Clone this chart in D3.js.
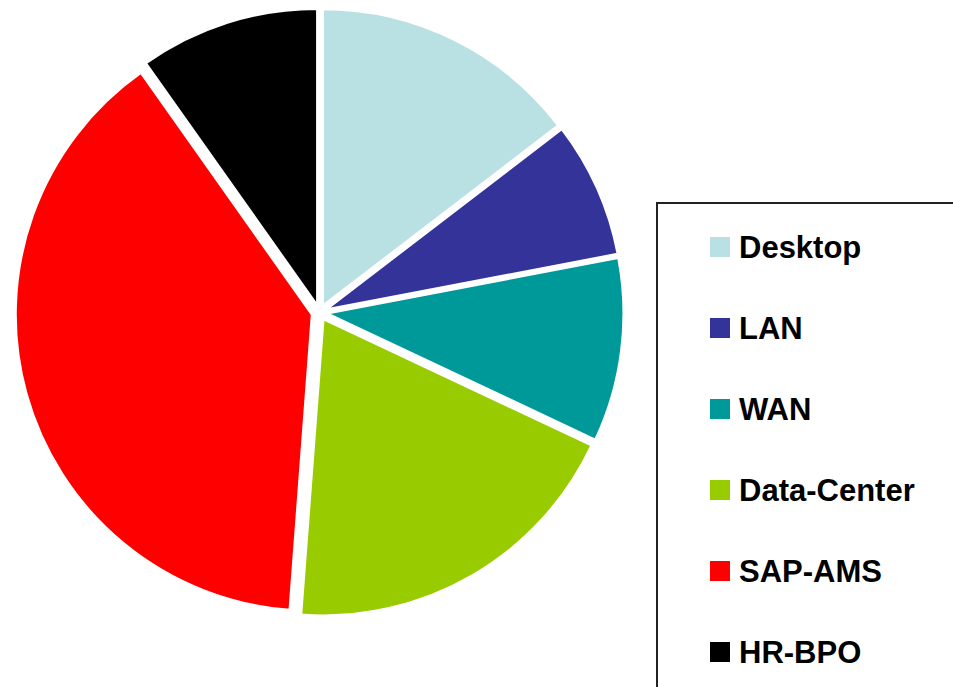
<!DOCTYPE html>
<html>
<head>
<meta charset="utf-8">
<script src="https://cdn.jsdelivr.net/npm/d3@7"></script>
<style>
  body { margin: 0; background: #fff; }
  text { font-family: "Liberation Sans", Arial, sans-serif; font-weight: bold; }
</style>
</head>
<body>
<div id="chart"></div>
<script>
// slice data (percent)
const categories = ["Desktop", "LAN", "WAN", "Data-Center", "SAP-AMS", "HR-BPO"];
const shares = [14.6, 7.4, 10.0, 19.2, 39.0, 9.8];
const colors = ["#b9e0e3", "#333399", "#009999", "#99cc00", "#ff0000", "#000000"];

const width = 953, height = 687;
const cx = 319.5, cy = 312.5, radius = 296, explode = 8;

const svg = d3.select("#chart")
  .append("svg")
  .attr("width", width)
  .attr("height", height);

const pie = d3.pie().sort(null).value(d => d.value);
const arc = d3.arc().innerRadius(0).outerRadius(radius);

const data = categories.map((c, i) => ({ name: c, value: shares[i], color: colors[i] }));

const g = svg.append("g").attr("transform", `translate(${cx},${cy})`);

// every slice pulled out a little from the middle
g.selectAll(".slice")
  .data(pie(data))
  .enter()
  .append("path")
  .attr("class", "slice")
  .attr("d", arc)
  .attr("fill", d => d.data.color)
  .attr("stroke", "#fff")
  .attr("stroke-width", 2)
  .attr("transform", d => {
    const a = (d.startAngle + d.endAngle) / 2;
    return `translate(${Math.sin(a) * explode},${-Math.cos(a) * explode})`;
  });

// legend box runs off the right and bottom edge
const legend = svg.append("g").attr("transform", "translate(657,203)");

legend.append("rect")
  .attr("x", 0)
  .attr("y", 0)
  .attr("width", 320)
  .attr("height", 520)
  .attr("fill", "none")
  .attr("stroke", "#222")
  .attr("stroke-width", 2);

const rowY = d3.scalePoint()
  .domain(categories)
  .range([44, 449]);

const items = legend.selectAll(".item")
  .data(data)
  .enter()
  .append("g")
  .attr("class", "item")
  .attr("transform", d => `translate(53,${rowY(d.name)})`);

items.append("rect")
  .attr("x", 0)
  .attr("y", -10)
  .attr("width", 20)
  .attr("height", 20)
  .attr("fill", d => d.color);

items.append("text")
  .attr("x", 29)
  .attr("y", 0)
  .attr("dy", "0.36em")
  .attr("font-size", 31)
  .attr("fill", "#000")
  .text(d => d.name);
</script>
</body>
</html>
